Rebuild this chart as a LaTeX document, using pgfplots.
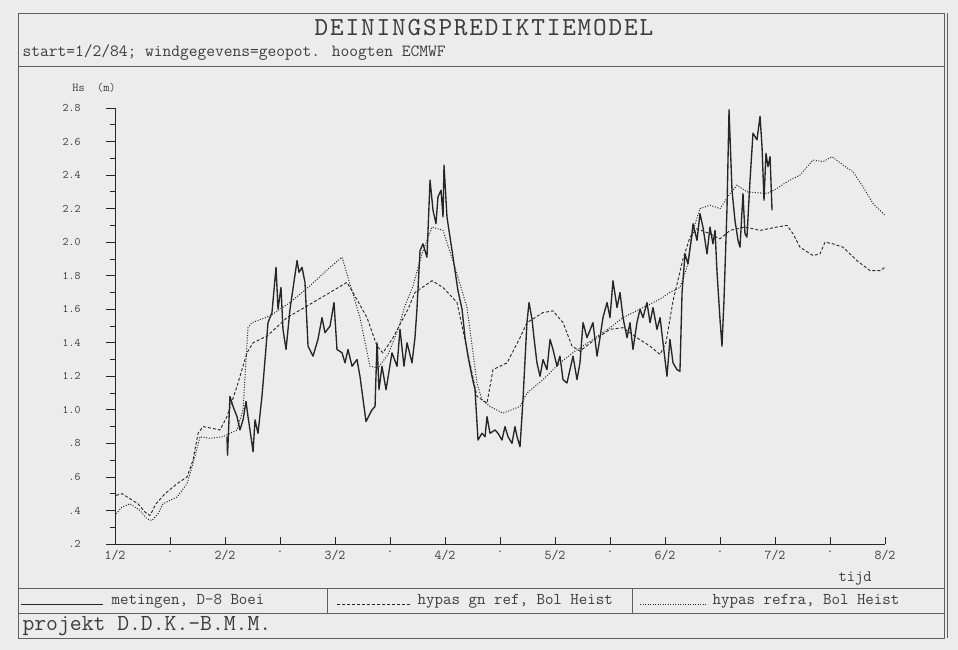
\documentclass[border=0pt]{standalone}
\usepackage{fontspec}
\usepackage{pgfplots}
\pgfplotsset{compat=1.18}
\usepackage{pgfplotstable}
\newfontfamily\ttl{lmmono10-regular.otf}[LetterSpace=7]
\definecolor{bg}{RGB}{236,236,236}
\definecolor{ink}{RGB}{38,38,38}
\definecolor{txt}{RGB}{60,60,60}
\definecolor{frm}{RGB}{95,95,95}

% measured Hs (metingen, D-8 Boei); t in days after 1/2 00h
\pgfplotstableread{
t h
1.018 0.84
1.023 0.73
1.045 1.08
1.073 1.02
1.109 0.96
1.136 0.88
1.164 0.94
1.191 1.05
1.209 0.96
1.245 0.80
1.255 0.75
1.273 0.94
1.300 0.86
1.336 1.08
1.364 1.30
1.391 1.52
1.427 1.58
1.464 1.85
1.482 1.60
1.509 1.73
1.527 1.48
1.555 1.36
1.591 1.60
1.655 1.89
1.673 1.82
1.700 1.85
1.727 1.76
1.755 1.38
1.800 1.32
1.845 1.42
1.882 1.55
1.909 1.46
1.955 1.50
1.991 1.64
2.018 1.36
2.064 1.34
2.091 1.28
2.118 1.36
2.155 1.26
2.200 1.30
2.227 1.20
2.282 0.93
2.336 1.00
2.364 1.02
2.382 1.40
2.400 1.12
2.427 1.26
2.464 1.12
2.518 1.34
2.564 1.26
2.591 1.48
2.627 1.26
2.655 1.40
2.700 1.28
2.727 1.43
2.745 1.60
2.773 1.95
2.800 1.99
2.836 1.91
2.864 2.37
2.891 2.19
2.918 2.11
2.936 2.27
2.964 2.31
2.982 2.15
2.991 2.46
3.018 2.15
3.036 2.07
3.064 1.95
3.091 1.83
3.118 1.71
3.155 1.60
3.182 1.43
3.209 1.32
3.245 1.20
3.273 1.12
3.300 0.82
3.336 0.86
3.364 0.84
3.382 0.96
3.409 0.86
3.455 0.88
3.482 0.86
3.518 0.82
3.545 0.90
3.573 0.84
3.609 0.80
3.636 0.90
3.655 0.84
3.682 0.78
3.709 1.06
3.745 1.52
3.764 1.64
3.791 1.54
3.809 1.43
3.836 1.28
3.864 1.20
3.891 1.30
3.927 1.24
3.955 1.42
3.982 1.36
4.018 1.26
4.045 1.32
4.073 1.18
4.109 1.16
4.136 1.24
4.164 1.32
4.200 1.18
4.227 1.28
4.255 1.52
4.291 1.43
4.345 1.52
4.382 1.32
4.409 1.43
4.436 1.55
4.473 1.64
4.500 1.55
4.527 1.77
4.564 1.61
4.591 1.70
4.618 1.55
4.655 1.43
4.682 1.52
4.709 1.36
4.745 1.52
4.773 1.60
4.800 1.55
4.836 1.64
4.864 1.52
4.891 1.61
4.927 1.48
4.955 1.55
4.982 1.40
5.018 1.20
5.045 1.42
5.073 1.28
5.109 1.24
5.136 1.23
5.155 1.70
5.182 1.93
5.209 1.87
5.245 2.05
5.255 2.11
5.291 2.01
5.318 2.17
5.345 2.09
5.382 1.93
5.409 2.09
5.436 1.99
5.455 2.07
5.473 1.82
5.500 1.54
5.518 1.38
5.536 1.65
5.564 2.21
5.582 2.79
5.609 2.31
5.636 2.13
5.664 2.01
5.682 1.97
5.709 2.29
5.727 2.05
5.745 2.03
5.773 2.37
5.800 2.65
5.836 2.61
5.864 2.75
5.882 2.57
5.900 2.25
5.918 2.53
5.936 2.45
5.955 2.51
5.973 2.19
}\meting

% hypas gn ref, Bol Heist
\pgfplotstableread{
t h
0.009 0.49
0.064 0.50
0.136 0.47
0.209 0.44
0.273 0.39
0.318 0.37
0.373 0.44
0.455 0.50
0.564 0.56
0.655 0.60
0.709 0.70
0.755 0.86
0.800 0.90
0.882 0.89
0.955 0.88
1.018 0.96
1.109 1.14
1.200 1.34
1.255 1.40
1.382 1.44
1.564 1.55
1.800 1.64
2.109 1.76
2.164 1.70
2.291 1.55
2.382 1.38
2.436 1.34
2.527 1.43
2.664 1.60
2.727 1.70
2.882 1.77
2.982 1.73
3.109 1.64
3.200 1.36
3.291 1.08
3.382 1.04
3.436 1.24
3.564 1.28
3.682 1.43
3.745 1.52
3.891 1.58
3.982 1.59
4.073 1.52
4.155 1.38
4.227 1.35
4.364 1.42
4.500 1.48
4.618 1.49
4.745 1.43
4.864 1.38
4.955 1.33
5.009 1.40
5.073 1.65
5.164 1.90
5.227 2.03
5.291 2.08
5.409 2.05
5.500 2.02
5.591 2.07
5.727 2.09
5.864 2.07
6.018 2.09
6.109 2.10
6.164 2.05
6.227 1.97
6.345 1.92
6.409 1.93
6.455 2.00
6.527 1.99
6.618 1.97
6.745 1.89
6.864 1.83
6.955 1.83
7.000 1.85
}\gnref

% hypas refra, Bol Heist
\pgfplotstableread{
t h
0.009 0.38
0.064 0.42
0.136 0.44
0.227 0.40
0.291 0.35
0.336 0.34
0.391 0.38
0.436 0.44
0.500 0.46
0.564 0.48
0.655 0.56
0.709 0.68
0.773 0.84
0.864 0.83
0.982 0.84
1.109 0.88
1.164 1.00
1.209 1.49
1.245 1.52
1.409 1.56
1.591 1.64
1.773 1.74
1.955 1.85
2.064 1.91
2.136 1.75
2.227 1.55
2.318 1.26
2.391 1.25
2.482 1.33
2.573 1.48
2.636 1.62
2.709 1.74
2.791 1.93
2.882 2.09
2.982 2.07
3.091 1.85
3.200 1.61
3.291 1.16
3.336 1.06
3.409 1.02
3.527 0.98
3.682 1.02
3.745 1.10
3.891 1.18
4.045 1.28
4.182 1.35
4.345 1.42
4.500 1.49
4.618 1.55
4.800 1.61
4.955 1.66
5.045 1.70
5.136 1.73
5.200 1.85
5.255 2.07
5.318 2.20
5.409 2.22
5.500 2.20
5.591 2.29
5.655 2.34
5.745 2.30
5.927 2.29
6.018 2.32
6.109 2.36
6.227 2.40
6.345 2.49
6.436 2.48
6.518 2.51
6.618 2.46
6.709 2.42
6.800 2.33
6.891 2.23
7.000 2.16
}\refra

\begin{document}
\begin{tikzpicture}
\fill[bg] (0pt,0pt) rectangle (958pt,650pt);
% frame and rows
\draw[frm, line width=0.9pt] (18pt,12pt) rectangle (944pt,637pt);
\draw[frm, line width=0.6pt] (947pt,12pt) -- (947pt,637pt);
\draw[frm, line width=0.8pt] (18pt,584pt) -- (944pt,584pt);
\draw[frm, line width=0.8pt] (18pt,62pt) -- (944pt,62pt);
\draw[frm, line width=0.8pt] (18pt,37pt) -- (944pt,37pt);
\draw[frm, line width=0.8pt] (327pt,37pt) -- (327pt,62pt);
\draw[frm, line width=0.8pt] (632pt,37pt) -- (632pt,62pt);
% titles
\node[txt, font=\ttl\fontsize{26}{28}\selectfont] at (484pt,622pt) {DEININGSPREDIKTIEMODEL};
\node[txt, anchor=west, font=\ttfamily\fontsize{17}{19}\selectfont] at (19pt,597pt) {start=1/2/84; windgegevens=geopot. hoogten ECMWF};
\node[txt, font=\ttfamily\fontsize{12}{14}\selectfont] at (94pt,562pt) {Hs\ \ (m)};
\node[txt, font=\ttfamily\fontsize{16}{18}\selectfont] at (855pt,72pt) {tijd};
% legend row
\draw[ink, line width=0.8pt] (21pt,46pt) -- (103pt,46pt);
\node[txt, anchor=west, font=\ttfamily\fontsize{16.5}{18}\selectfont] at (108pt,49pt) {metingen, D-8 Boei};
\draw[ink, line width=0.8pt, dash pattern=on 3pt off 2pt] (337pt,46pt) -- (411pt,46pt);
\node[txt, anchor=west, font=\ttfamily\fontsize{16.5}{18}\selectfont] at (414pt,49pt) {hypas gn ref, Bol Heist};
\draw[ink, line width=0.9pt, dash pattern=on 1pt off 1.5pt] (640pt,46pt) -- (706pt,46pt);
\node[txt, anchor=west, font=\ttfamily\fontsize{16.5}{18}\selectfont] at (709pt,49pt) {hypas refra, Bol Heist};
\node[txt, anchor=west, font=\ttfamily\fontsize{23}{25}\selectfont] at (19pt,24pt) {projekt D.D.K.-B.M.M.};

% main axis: y axis, data
\begin{axis}[
  at={(115pt,106pt)}, anchor=south west,
  scale only axis, width=770pt, height=436pt,
  xmin=0, xmax=7, ymin=0.2, ymax=2.8,
  axis x line=bottom, axis y line=left,
  axis line style={-, draw=ink, line width=0.8pt},
  tick align=outside,
  xtick=\empty,
  ytick={0.2,0.4,0.6,0.8,1.0,1.2,1.4,1.6,1.8,2.0,2.2,2.4,2.6,2.8},
  yticklabels={.2,.4,.6,.8,1.0,1.2,1.4,1.6,1.8,2.0,2.2,2.4,2.6,2.8},
  minor ytick={0.3,0.5,0.7,0.9,1.1,1.3,1.5,1.7,1.9,2.1,2.3,2.5,2.7},
  major tick length=9pt, minor tick length=5pt,
  tick style={ink, line width=0.8pt},
  yticklabel style={font=\ttfamily\fontsize{11.5}{13}\selectfont, text=txt, xshift=-22pt},
  clip=false,
]
\addplot[ink, line width=1.35pt, line join=round] table[x=t, y=h] {\meting};
\addplot[ink, line width=0.9pt, dash pattern=on 3pt off 2pt] table[x=t, y=h] {\gnref};
\addplot[ink, line width=1pt, dash pattern=on 1pt off 1.6pt] table[x=t, y=h] {\refra};
\end{axis}

% x ticks pointing inward with date labels
\begin{axis}[
  at={(115pt,106pt)}, anchor=south west,
  scale only axis, width=770pt, height=436pt,
  xmin=0, xmax=7, ymin=0.2, ymax=2.8,
  axis x line=bottom, axis y line=none,
  axis line style={-, draw=ink, line width=0.8pt},
  tick align=inside,
  xtick={0,0.5,1,1.5,2,2.5,3,3.5,4,4.5,5,5.5,6,6.5,7},
  xticklabels={1/2,.,2/2,.,3/2,.,4/2,.,5/2,.,6/2,.,7/2,.,8/2},
  ytick=\empty,
  major tick length=7pt,
  tick style={ink, line width=0.8pt},
  xticklabel style={font=\ttfamily\fontsize{13.5}{15}\selectfont, text=txt, yshift=-3pt},
]
\end{axis}
\end{tikzpicture}
\end{document}
